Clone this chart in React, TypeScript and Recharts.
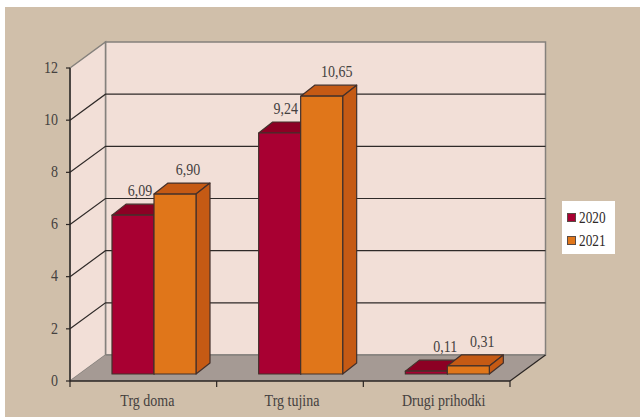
import React from 'react';
import { BarChart, Bar, XAxis, YAxis, CartesianGrid, Legend, LabelList } from 'recharts';

const categories = ['Trg doma', 'Trg tujina', 'Drugi prihodki'];
const values2020 = [6.09, 9.24, 0.11];
const values2021 = [6.9, 10.65, 0.31];
const yTicks = [0, 2, 4, 6, 8, 10, 12];

const data = categories.map((name, i) => ({ name, y2020: values2020[i], y2021: values2021[i] }));

const W = 640;
const H = 417;
const PLOT = { left: 70, right: 510, top: 68, bottom: 381 };
const LEGEND_W = 53;
const DEPTH_X = 35.5;
const DEPTH_Y = 26;
const BAR_SHIFT_X = 11;
const BAR_SHIFT_Y = 7;
const BAR_DEPTH_X = 14;
const BAR_DEPTH_Y = 11;
const TEXT = '#45413f';
const FONT = '"Liberation Serif", serif';

// the original face is a narrow garamond, so squeeze a bigger serif
const Serif = ({ x, y, anchor = 'middle', children }: any) => (
  <text
    transform={`translate(${x} ${y}) scale(0.875 1)`}
    fill={TEXT}
    fontFamily={FONT}
    fontSize={16}
    textAnchor={anchor}
    dominantBaseline="middle"
  >
    {children}
  </text>
);

// 3D room behind the plot, sits under the transparent chart
const Room = () => (
  <svg width={W} height={H} style={{ position: 'absolute', left: 0, top: 0 }}>
    <rect x={PLOT.left + DEPTH_X} y={PLOT.top - DEPTH_Y} width={PLOT.right - PLOT.left} height={PLOT.bottom - PLOT.top} fill="#f2dfd7" stroke="#85817c" strokeWidth={1.5} />
    <polygon
      points={`${PLOT.left},${PLOT.top} ${PLOT.left + DEPTH_X},${PLOT.top - DEPTH_Y} ${PLOT.left + DEPTH_X},${PLOT.bottom - DEPTH_Y} ${PLOT.left},${PLOT.bottom}`}
      fill="#f2dfd7"
      stroke="#85817c"
      strokeWidth={1.5}
    />
    <polygon
      points={`${PLOT.left},${PLOT.bottom} ${PLOT.left + DEPTH_X},${PLOT.bottom - DEPTH_Y} ${PLOT.right + DEPTH_X},${PLOT.bottom - DEPTH_Y} ${PLOT.right},${PLOT.bottom}`}
      fill="#a59a94"
    />
    <line x1={PLOT.left + DEPTH_X} y1={PLOT.bottom - DEPTH_Y} x2={PLOT.right + DEPTH_X} y2={PLOT.bottom - DEPTH_Y} stroke="#85817c" strokeWidth={1.5} />
    <line x1={PLOT.right} y1={PLOT.bottom} x2={PLOT.right + DEPTH_X} y2={PLOT.bottom - DEPTH_Y} stroke="#2a2523" strokeWidth={1.2} />
  </svg>
);

const gridLine = (props: any) => {
  const { x1, x2, y1, key } = props;
  // top and floor edges belong to the room
  if (Math.abs(y1 - PLOT.top) < 1 || Math.abs(y1 - PLOT.bottom) < 1) return <g key={key} />;
  return (
    <polyline
      key={key}
      points={`${x1},${y1} ${x1 + DEPTH_X},${y1 - DEPTH_Y} ${x2 + DEPTH_X},${y1 - DEPTH_Y}`}
      fill="none"
      stroke="#2f2a28"
      strokeWidth={1.2}
    />
  );
};

const box = (front: string, dark: string) => (props: any) => {
  const { width, height } = props;
  const x = props.x + BAR_SHIFT_X;
  const y = props.y - BAR_SHIFT_Y;
  const x2 = x + width;
  const y2 = y + height;
  const dx = BAR_DEPTH_X;
  const dy = BAR_DEPTH_Y;
  return (
    <g stroke="#43302b" strokeWidth={1.2} strokeLinejoin="round">
      <polygon points={`${x},${y} ${x + dx},${y - dy} ${x2 + dx},${y - dy} ${x2},${y}`} fill={dark} />
      <polygon points={`${x2},${y} ${x2 + dx},${y - dy} ${x2 + dx},${y2 - dy} ${x2},${y2}`} fill={dark} />
      <rect x={x} y={y} width={width} height={height} fill={front} />
    </g>
  );
};

const valueLabel = (nudge: number[]) => (props: any) => {
  const { x, y, width, value, index } = props;
  return (
    <Serif x={x + BAR_SHIFT_X + width / 2 + nudge[index]} y={y - BAR_SHIFT_Y - 23}>
      {Number(value).toFixed(2).replace('.', ',')}
    </Serif>
  );
};

const CategoryTick = (props: any) => {
  const { x, payload, index } = props;
  const band = (PLOT.right - PLOT.left) / categories.length;
  const nudge = [4, 2, 7][index] ?? 0;
  return (
    <g>
      <line x1={x - band / 2} y1={PLOT.bottom} x2={x - band / 2} y2={PLOT.bottom + 6} stroke="#2a2523" strokeWidth={1.2} />
      {index === categories.length - 1 && (
        <line x1={x + band / 2} y1={PLOT.bottom} x2={x + band / 2} y2={PLOT.bottom + 6} stroke="#2a2523" strokeWidth={1.2} />
      )}
      <Serif x={x + nudge} y={PLOT.bottom + 21}>{payload.value}</Serif>
    </g>
  );
};

const ValueTick = ({ x, y, payload }: any) => (
  <Serif x={x} y={y + 1} anchor="end">{payload.value}</Serif>
);

const LegendBox = ({ payload }: any) => (
  <div style={{ background: '#fff', width: LEGEND_W, height: 53, boxSizing: 'border-box', padding: '5px 0 0 5px', fontFamily: FONT, fontSize: 16, color: '#2f2a28' }}>
    {(payload || []).map((item: any) => (
      <div key={item.value} style={{ display: 'flex', alignItems: 'center', height: 23 }}>
        <span style={{ width: 7, height: 7, background: item.color, border: '1px solid #5a4a44', marginRight: 3 }} />
        <span style={{ display: 'inline-block', transform: 'scaleX(0.83)', transformOrigin: 'left center' }}>{item.value}</span>
      </div>
    ))}
  </div>
);

export default function App() {
  return (
    <div style={{ position: 'fixed', left: 0, top: 0, width: W, height: H, background: '#fff', overflow: 'hidden' }}>
      <div style={{ position: 'absolute', left: 5, top: 7, width: W - 5, height: H - 7, background: '#d0bfaa' }} />
      <Room />
      <div style={{ position: 'absolute', left: 0, top: 0 }}>
        <BarChart
          width={W}
          height={H}
          data={data}
          margin={{ top: PLOT.top, right: W - PLOT.right - LEGEND_W, bottom: 0, left: 0 }}
          barSize={42}
          barGap={0}
        >
          <CartesianGrid vertical={false} horizontal={gridLine} />
          <XAxis
            dataKey="name"
            height={H - PLOT.bottom}
            interval={0}
            tick={<CategoryTick />}
            tickLine={false}
            axisLine={{ stroke: '#2a2523', strokeWidth: 1.4 }}
          />
          <YAxis
            width={PLOT.left}
            domain={[0, 12]}
            ticks={yTicks}
            interval={0}
            tickSize={4}
            tickMargin={8}
            tick={<ValueTick />}
            tickLine={{ stroke: '#2a2523', strokeWidth: 1.2 }}
            axisLine={{ stroke: '#2a2523', strokeWidth: 1.4 }}
          />
          <Legend
            layout="vertical"
            align="right"
            verticalAlign="top"
            content={<LegendBox />}
            wrapperStyle={{ left: 562, top: 201, width: LEGEND_W, height: 53 }}
          />
          <Bar dataKey="y2020" name="2020" fill="#a80032" isAnimationActive={false} shape={box('#a80032', '#8c0024')}>
            <LabelList dataKey="y2020" content={valueLabel([7, 6, 19])} />
          </Bar>
          <Bar dataKey="y2021" name="2021" fill="#e0761a" isAnimationActive={false} shape={box('#e0761a', '#c55a14')}>
            <LabelList dataKey="y2021" content={valueLabel([13, 15, 14])} />
          </Bar>
        </BarChart>
      </div>
    </div>
  );
}
